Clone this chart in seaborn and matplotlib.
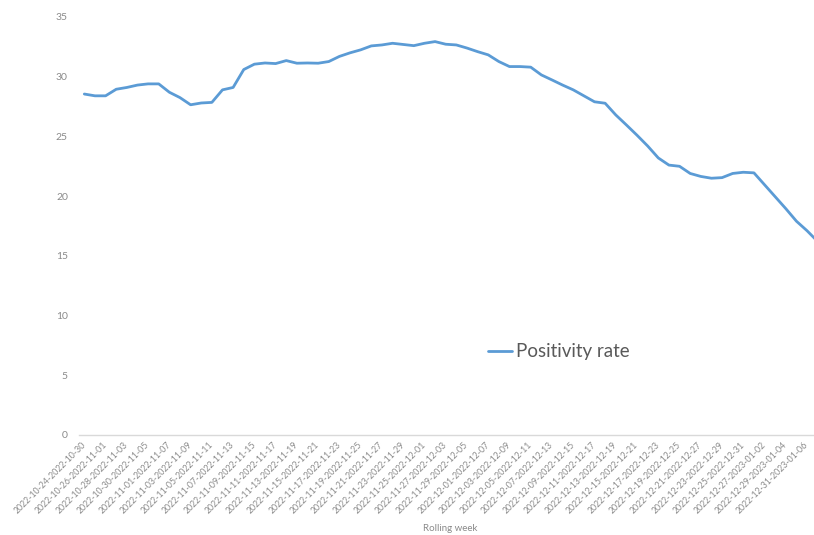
import matplotlib
matplotlib.use("Agg")
import matplotlib.pyplot as plt
import seaborn as sns
import pandas as pd
import numpy as np

# ---- data ----
start_dates = pd.date_range("2022-10-24", periods=70, freq="D")
week_labels = [f"{d:%Y-%m-%d}-{(d + pd.Timedelta(days=6)):%Y-%m-%d}" for d in start_dates]

positivity_rate = [
    28.55, 28.4, 28.4, 28.95, 29.1, 29.3, 29.4, 29.4, 28.7, 28.25,
    27.65, 27.8, 27.85, 28.9, 29.1, 30.6, 31.05, 31.15, 31.1, 31.35,
    31.13, 31.15, 31.13, 31.27, 31.7, 32.0, 32.25, 32.58, 32.66, 32.8,
    32.7, 32.6, 32.8, 32.94, 32.72, 32.66, 32.4, 32.1, 31.83, 31.27,
    30.85, 30.85, 30.8, 30.15, 29.73, 29.3, 28.9, 28.4, 27.9, 27.78,
    26.8, 25.96, 25.1, 24.2, 23.2, 22.6, 22.5, 21.9, 21.65, 21.5,
    21.55, 21.9, 22.0, 21.95, 20.95, 19.95, 18.95, 17.9, 17.1, 16.2,
]
series_name = "Positivity rate"
y_ticks = [0, 5, 10, 15, 20, 25, 30, 35]

df = pd.DataFrame({"idx": np.arange(len(week_labels)),
                   "week": week_labels,
                   "value": positivity_rate})

# ---- style ----
sns.set_theme(style="white")
plt.rcParams["font.family"] = ["Lato", "DejaVu Sans"]

W, H = 814, 535
fig = plt.figure(figsize=(W / 100, H / 100), dpi=100)
ax = fig.add_axes([79 / W, 100 / H, 735 / W, 418 / H])

sns.lineplot(data=df, x="idx", y="value", ax=ax, color="#5B9BD5",
             linewidth=2.0, label=series_name)

ax.set_xlim(-0.5, 68.65)
ax.set_ylim(0, 35)
ax.set_yticks(y_ticks)
ax.set_yticklabels([str(t) for t in y_ticks])
ax.tick_params(axis="y", length=0, pad=8, labelsize=7.5, labelcolor="#8a8a8a")

tick_pos = list(range(0, 69, 2))
ax.set_xticks(tick_pos)
ax.set_xticklabels([week_labels[i] for i in tick_pos], rotation=45,
                   ha="right", va="center", rotation_mode="anchor")
ax.tick_params(axis="x", length=0, pad=6, labelsize=6.3, labelcolor="#8a8a8a")

for s in ["top", "right", "left"]:
    ax.spines[s].set_visible(False)
ax.spines["bottom"].set_color("#d9d9d9")
ax.spines["bottom"].set_linewidth(1.0)
ax.grid(False)

ax.set_ylabel("")
ax.set_xlabel("Rolling week", fontsize=7, color="#8a8a8a")
ax.xaxis.set_label_coords(0.505, -0.213)

leg = ax.legend(loc="center left", bbox_to_anchor=(488 / W, 1 - 352 / H),
                bbox_transform=fig.transFigure, frameon=False,
                fontsize=13.5, handlelength=1.3, handletextpad=0.2,
                borderpad=0, borderaxespad=0)
for t in leg.get_texts():
    t.set_color("#595959")

fig.savefig("out.png", dpi=100)
